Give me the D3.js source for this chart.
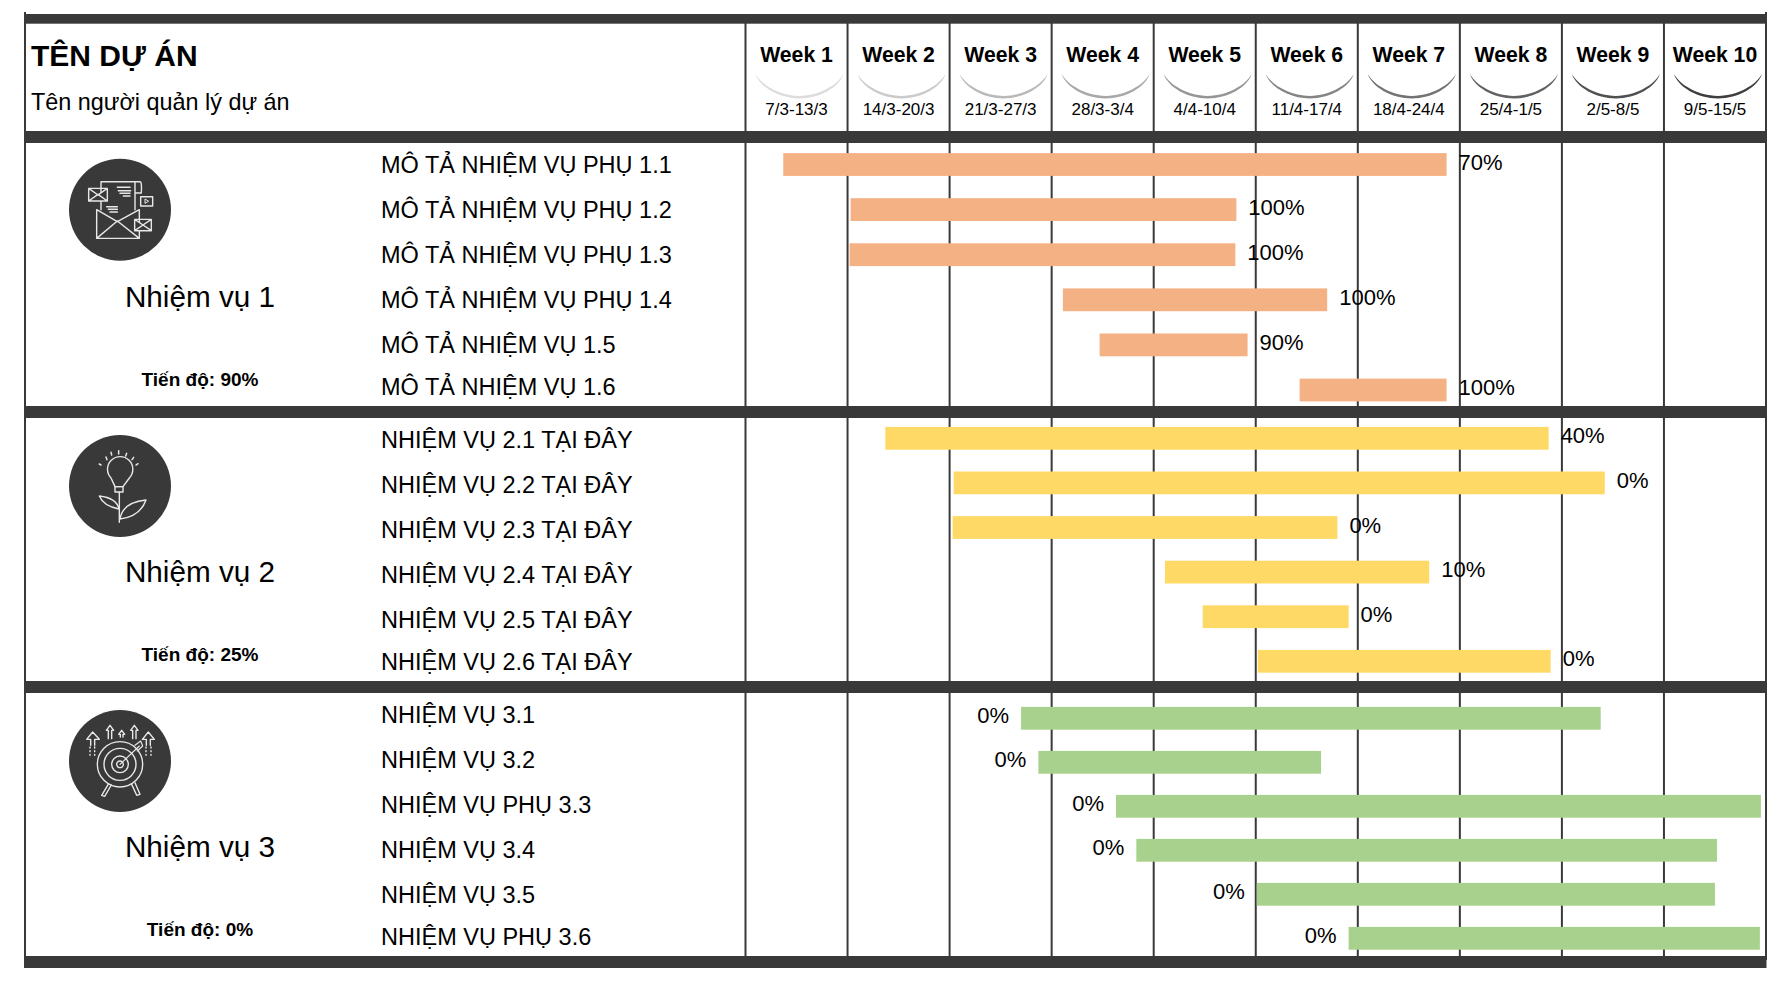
<!DOCTYPE html>
<html>
<head>
<meta charset="utf-8">
<script src="https://cdnjs.cloudflare.com/ajax/libs/d3/7.8.5/d3.min.js"></script>
<style>
html, body { margin: 0; padding: 0; background: #fff; }
svg { display: block; }
text { font-family: "Liberation Sans", Arial, sans-serif; fill: #000; }
</style>
</head>
<body>
<div id="chart"></div>
<script>
var weekLabels = ["Week 1", "Week 2", "Week 3", "Week 4", "Week 5", "Week 6", "Week 7", "Week 8", "Week 9", "Week 10"];
var weekDates = ["7/3-13/3", "14/3-20/3", "21/3-27/3", "28/3-3/4", "4/4-10/4", "11/4-17/4", "18/4-24/4", "25/4-1/5", "2/5-8/5", "9/5-15/5"];

var groupNames = ["Nhiệm vụ 1", "Nhiệm vụ 2", "Nhiệm vụ 3"];
var groupProgress = ["Tiến độ: 90%", "Tiến độ: 25%", "Tiến độ: 0%"];

// start and end are in weeks from the beginning of week 1
var tasks1 = ["MÔ TẢ NHIỆM VỤ PHỤ 1.1", "MÔ TẢ NHIỆM VỤ PHỤ 1.2", "MÔ TẢ NHIỆM VỤ PHỤ 1.3", "MÔ TẢ NHIỆM VỤ PHỤ 1.4", "MÔ TẢ NHIỆM VỤ 1.5", "MÔ TẢ NHIỆM VỤ 1.6"];
var starts1 = [0.37, 1.03, 1.02, 3.11, 3.47, 5.43];
var ends1 = [6.87, 4.81, 4.80, 5.70, 4.92, 6.87];
var done1 = ["70%", "100%", "100%", "100%", "90%", "100%"];

var tasks2 = ["NHIỆM VỤ 2.1 TẠI ĐÂY", "NHIỆM VỤ 2.2 TẠI ĐÂY", "NHIỆM VỤ 2.3 TẠI ĐÂY", "NHIỆM VỤ 2.4 TẠI ĐÂY", "NHIỆM VỤ 2.5 TẠI ĐÂY", "NHIỆM VỤ 2.6 TẠI ĐÂY"];
var starts2 = [1.37, 2.04, 2.03, 4.11, 4.48, 5.02];
var ends2 = [7.87, 8.42, 5.80, 6.70, 5.91, 7.89];
var done2 = ["40%", "0%", "0%", "10%", "0%", "0%"];

var tasks3 = ["NHIỆM VỤ 3.1", "NHIỆM VỤ 3.2", "NHIỆM VỤ PHỤ 3.3", "NHIỆM VỤ 3.4", "NHIỆM VỤ 3.5", "NHIỆM VỤ PHỤ 3.6"];
var starts3 = [2.70, 2.87, 3.63, 3.83, 5.01, 5.91];
var ends3 = [8.38, 5.64, 9.95, 9.52, 9.50, 9.94];
var done3 = ["0%", "0%", "0%", "0%", "0%", "0%"];

var width = 1790, height = 996;
var dark = "#3a3939";
var iconLine = "#e8e8e8";

var svg = d3.select("#chart").append("svg")
    .attr("width", width)
    .attr("height", height);

var x = d3.scaleLinear().domain([0, 10]).range([745.5, 1766]);
var arcColor = d3.scaleLinear().domain([0, 9]).range(["#dcdcdc", "#3f3f3f"]);

// label rows are evenly spaced except the last one, which sits closer
var labelY = d3.scaleLinear().domain([0, 4, 5]).range([29.7, 209.7, 252]);

var groups = [
    {top: 143, barRange: [164.5, 390], color: "#f4b183", names: tasks1, starts: starts1, ends: ends1, done: done1, side: "right", iconY: 209.7, icon: iconEnvelope},
    {top: 418, barRange: [438.3, 661.3], color: "#ffd966", names: tasks2, starts: starts2, ends: ends2, done: done2, side: "right", iconY: 486, icon: iconBulb},
    {top: 693, barRange: [718.3, 938.3], color: "#a9d18e", names: tasks3, starts: starts3, ends: ends3, done: done3, side: "left", iconY: 761, icon: iconTarget}
];

// Vertical week lines, behind the bars
svg.append("g").selectAll("line")
    .data(d3.range(0, 11))
    .enter()
    .append("line")
    .attr("x1", function(d) { return x(d); })
    .attr("x2", function(d) { return x(d); })
    .attr("y1", function(d) { return d == 10 ? 12 : 20; })
    .attr("y2", 960)
    .attr("stroke", dark)
    .attr("stroke-width", 2);

// Left border
svg.append("line")
    .attr("x1", 25).attr("x2", 25)
    .attr("y1", 12).attr("y2", 960)
    .attr("stroke", dark)
    .attr("stroke-width", 2);

// Horizontal dark bands
svg.append("g").selectAll("rect")
    .data([[14, 23.7], [131, 143], [406, 418], [681, 693], [956, 968]])
    .enter()
    .append("rect")
    .attr("x", 24)
    .attr("y", function(d) { return d[0]; })
    .attr("width", 1742.5)
    .attr("height", function(d) { return d[1] - d[0]; })
    .attr("fill", dark);

// Header
svg.append("text").attr("x", 31).attr("y", 66)
    .attr("font-size", 30).attr("font-weight", "bold").text("TÊN DỰ ÁN");
svg.append("text").attr("x", 31).attr("y", 110)
    .attr("font-size", 23.4).text("Tên người quản lý dự án");

var head = svg.append("g").selectAll("g")
    .data(weekLabels)
    .enter()
    .append("g")
    .attr("transform", function(d, i) { return "translate(" + x(i + 0.5) + ",0)"; });

head.append("text")
    .attr("y", 62)
    .attr("text-anchor", "middle")
    .attr("font-size", 21.2)
    .attr("font-weight", "bold")
    .text(function(d) { return d; });

head.append("text")
    .attr("y", 115)
    .attr("text-anchor", "middle")
    .attr("font-size", 17)
    .text(function(d, i) { return weekDates[i]; });

head.append("path")
    .attr("transform", "translate(3,0)")
    .attr("d", "M-44,74 C-40,87 -20,98.5 0,98.5 C20,98.5 40,87 44,74 C38,85 20,95.5 0,96 C-20,95.5 -38,85 -44,74 Z")
    .attr("fill", function(d, i) { return arcColor(i); });

// Groups
groups.forEach(function(group, g) {

    var y = d3.scaleLinear().domain([0, 5]).range(group.barRange);
    var rows = group.names.map(function(name, i) {
        return {name: name, start: group.starts[i], end: group.ends[i], done: group.done[i], row: i};
    });

    var layer = svg.append("g");

    layer.append("text")
        .attr("x", 200).attr("y", group.top + 164)
        .attr("text-anchor", "middle")
        .attr("font-size", 29.7)
        .text(groupNames[g]);

    layer.append("text")
        .attr("x", 200).attr("y", group.top + 242.7)
        .attr("text-anchor", "middle")
        .attr("font-size", 19)
        .attr("font-weight", "bold")
        .text(groupProgress[g]);

    layer.selectAll(".task")
        .data(rows)
        .enter()
        .append("text")
        .attr("class", "task")
        .attr("x", 381)
        .attr("y", function(d) { return group.top + labelY(d.row); })
        .attr("font-size", 23.5)
        .text(function(d) { return d.name; });

    layer.selectAll(".bar")
        .data(rows)
        .enter()
        .append("rect")
        .attr("class", "bar")
        .attr("x", function(d) { return x(d.start); })
        .attr("y", function(d) { return y(d.row) - 11.4; })
        .attr("width", function(d) { return x(d.end) - x(d.start); })
        .attr("height", 22.8)
        .attr("fill", group.color);

    layer.selectAll(".done")
        .data(rows)
        .enter()
        .append("text")
        .attr("class", "done")
        .attr("x", function(d) { return group.side == "right" ? x(d.end) + 12 : x(d.start) - 12; })
        .attr("y", function(d) { return y(d.row) + 5; })
        .attr("text-anchor", group.side == "right" ? "start" : "end")
        .attr("font-size", 22)
        .text(function(d) { return d.done; });

    var icon = layer.append("g").attr("transform", "translate(120," + group.iconY + ")");
    icon.append("circle").attr("r", 51).attr("fill", dark);

    // icon outlines are drawn around the circle centre at 3x size
    var art = icon.append("g")
        .attr("transform", "scale(0.3333)")
        .attr("fill", "none")
        .attr("stroke", iconLine)
        .attr("stroke-width", 4.2)
        .attr("stroke-linecap", "round")
        .attr("stroke-linejoin", "round");
    group.icon(art);
});

function iconEnvelope(art) {
    art.append("path").attr("d", "M-57,0 V-84 H60 Q66,-84 64,-50 H47 M45,-84 V0");
    art.append("path").attr("d", "M-70,0 V86 H58 V0 M-70,0 L-8,36 L58,0 M-70,86 L-8,34 L58,86");
    art.append("path").attr("fill", dark).attr("d", "M-94,-64 H-38 V-26 H-94 Z M-94,-64 L-66,-44 L-38,-64 M-94,-26 L-66,-46 L-38,-26");
    art.append("path").attr("fill", dark).attr("d", "M44,29 H94 V63 H44 Z M44,29 L69,46 L94,29 M44,63 L69,46 L94,63");
    art.append("path").attr("fill", dark).attr("d", "M62,-39 H98 V-11 H62 Z");
    art.append("path").attr("stroke-width", 3).attr("d", "M75,-31 V-19 L85,-25 Z");
    art.append("path").attr("stroke-width", 4.5).attr("d", "M-8,-67 H30 M-5,-57 H32 M0,-49 H30 M10,-41 H30 M-40,-9 H-8 M-35,-1 H-8 M-30,7 H-8");
}

function iconBulb(art) {
    var g = art.append("g").attr("transform", "translate(0,14)");
    g.append("path").attr("d", "M-15,-12 L-27,-38 A38,38 0 1 1 28,-38 L9,-12 Z");
    g.append("path").attr("d", "M-15,-12 H9 V4 H-15 Z");
    g.append("path").attr("d", "M-2,4 V95");
    g.append("path").attr("d", "M-3,55 Q-10,22 -62,16 Q-50,46 -3,55");
    g.append("path").attr("d", "M0,85 Q8,35 78,28 Q60,78 0,85");
    g.append("path").attr("stroke-width", 4.5).attr("d", "M-62,-80 L-57,-77 M-42,-101 L-39,-93 M-27,-115 L-25,-107 M-4,-120 V-110 M20,-112 L17,-104 M41,-100 L36,-93 M54,-81 L48,-77");
}

function iconTarget(art) {
    art.selectAll("circle")
        .data([68, 48, 25, 10])
        .enter()
        .append("circle")
        .attr("cy", 10)
        .attr("r", function(d) { return d; });
    art.append("path").attr("d", "M-34,68 L-55,103 L-46,106 L-26,72 M34,68 L50,103 L60,100 L45,65");
    art.append("path").attr("stroke-width", 3.5).attr("d", "M0,10 L58,-45 M45,-47 L62,-60 L68,-45 L52,-30");
    // outer arrows, then the two inner ones and the small middle one
    art.append("path").attr("d", "M-88,-47 V-65 H-100 L-82,-87 L-62,-65 H-76 V-47");
    art.append("path").attr("d", "M79,-47 V-65 H67 L85,-87 L103,-65 H91 V-47");
    art.append("path").attr("d", "M-35,-67 V-92 H-41 L-30,-107 L-19,-92 H-25 V-67");
    art.append("path").attr("d", "M38,-67 V-92 H32 L43,-107 L54,-92 H48 V-67");
    art.append("path").attr("d", "M1,-72 V-80 H-4 L5,-92 L14,-80 H9 V-72");
    art.append("path").attr("stroke-dasharray", "3 8").attr("d", "M-90,-42 V-15 M-76,-42 V-15 M78,-42 V-15 M93,-42 V-15");
}
</script>
</body>
</html>
